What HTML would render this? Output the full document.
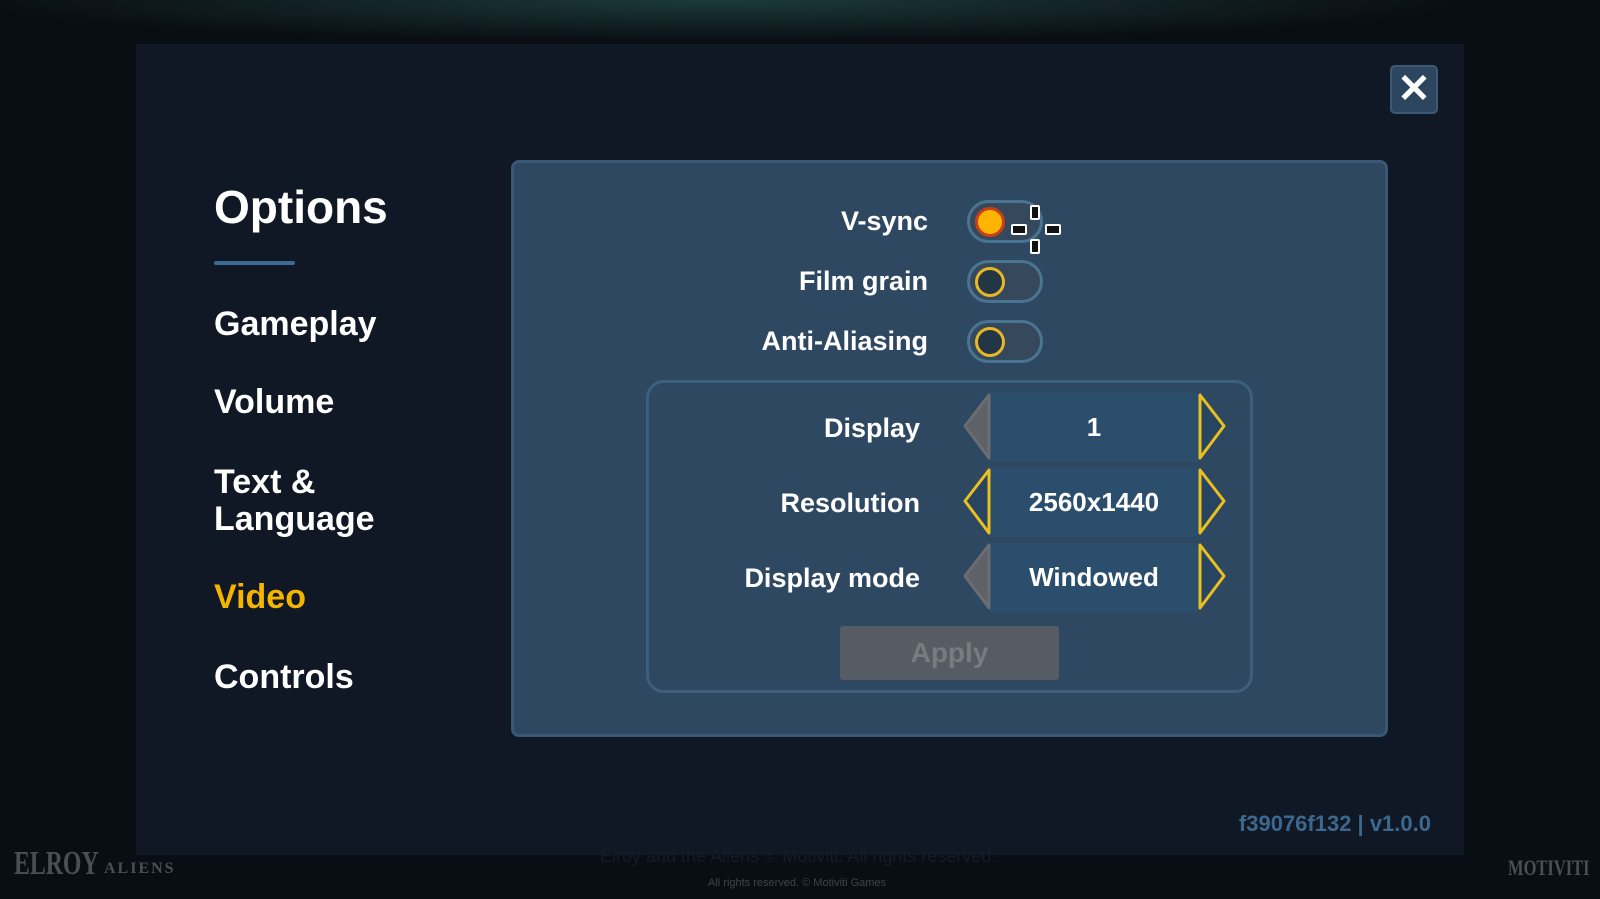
<!DOCTYPE html>
<html><head><meta charset="utf-8"><style>
*{margin:0;padding:0;box-sizing:border-box}
body{width:1600px;height:899px;overflow:hidden;background:#090d14;font-family:"Liberation Sans",sans-serif;font-weight:bold;position:relative;color:#fff}
.a{position:absolute;white-space:nowrap}
.modal{position:absolute;left:136px;top:44px;width:1328px;height:811px;background:#0f1824}
.panel{position:absolute;left:511px;top:160px;width:877px;height:577px;background:#2e4861;border:3px solid #3a5875;border-radius:8px}
.menu{font-size:34px;left:214px}
.lbl{font-size:27px;text-align:right}
.pill{position:absolute;width:76px;height:43px;border-radius:22px;background:#35485c;border:3px solid #4a7592}
.pill i{position:absolute;left:5px;top:4px;width:30px;height:30px;border-radius:50%;border:3px solid #e8b824;background:#233646}
.bar{position:absolute;left:990px;width:208px;height:69px;background:#2c4e6d;font-size:26px;text-align:center;line-height:69px}
</style></head><body>
<div class="a" style="left:0;top:0;width:1600px;height:50px;background:radial-gradient(ellipse at 45% 0,#1c3a3a,transparent 60%)"></div>
<div class="modal"></div>
<div class="a" style="left:1390px;top:65px;width:48px;height:49px;background:#2c465f;border-radius:5px;border:2px solid #3c5a75;color:#fff;font-size:40px;line-height:44px;text-align:center">✕</div>
<div class="a" style="left:214px;top:180px;font-size:46px">Options</div>
<div class="a" style="left:214px;top:261px;width:81px;height:4px;background:#3d6a92;border-radius:2px"></div>
<div class="a menu" style="top:305px">Gameplay</div>
<div class="a menu" style="top:383px">Volume</div>
<div class="a menu" style="top:464px;line-height:37px">Text &amp;<br>Language</div>
<div class="a menu" style="top:578px;color:#f5b400">Video</div>
<div class="a menu" style="top:658px">Controls</div>
<div class="panel"></div>
<div class="a lbl" style="right:672px;top:206px">V-sync</div>
<div class="a lbl" style="right:672px;top:266px">Film grain</div>
<div class="a lbl" style="right:672px;top:326px">Anti-Aliasing</div>
<div class="pill" style="left:967px;top:200px"><i style="background:#ffb400;border-color:#c8401a"></i></div>
<div class="pill" style="left:967px;top:260px"><i></i></div>
<div class="pill" style="left:967px;top:320px"><i></i></div>
<div class="a" style="left:1030px;top:205px;width:10px;height:15px;border:2px solid #fff;background:#111;border-radius:2px"></div>
<div class="a" style="left:1030px;top:239px;width:10px;height:15px;border:2px solid #fff;background:#111;border-radius:2px"></div>
<div class="a" style="left:1011px;top:224px;width:16px;height:11px;border:2px solid #fff;background:#111;border-radius:2px"></div>
<div class="a" style="left:1045px;top:224px;width:16px;height:11px;border:2px solid #fff;background:#111;border-radius:2px"></div>
<div class="a" style="left:646px;top:380px;width:607px;height:313px;border:3px solid #3d5f7e;border-radius:18px"></div>
<div class="a lbl" style="right:680px;top:413px">Display</div>
<div class="a lbl" style="right:680px;top:488px">Resolution</div>
<div class="a lbl" style="right:680px;top:563px">Display mode</div>
<div class="bar" style="top:393px">1</div>
<div class="bar" style="top:468px">2560x1440</div>
<div class="bar" style="top:543px">Windowed</div>
<svg class="a" style="left:960px;top:390px" width="270" height="230">
<g stroke-width="3" stroke-linejoin="round">
<polygon points="29,5 29,68 5,36" fill="#5e6266" stroke="#6a6e72"/>
<polygon points="29,80 29,143 5,111" fill="#274560" stroke="#eabf20"/>
<polygon points="29,155 29,218 5,186" fill="#5e6266" stroke="#6a6e72"/>
<polygon points="240,5 240,68 264,36" fill="#274560" stroke="#eabf20"/>
<polygon points="240,80 240,143 264,111" fill="#274560" stroke="#eabf20"/>
<polygon points="240,155 240,218 264,186" fill="#274560" stroke="#eabf20"/>
</g></svg>
<div class="a" style="left:840px;top:626px;width:219px;height:54px;background:#555c63;border-radius:3px;color:#767c82;font-size:28px;text-align:center;line-height:54px">Apply</div>
<div class="a" style="right:169px;top:811px;color:#3c6890;font-size:22px">f39076f132 | v1.0.0</div>
<div class="a" style="left:600px;top:846px;color:#161c26;font-size:18px;font-weight:normal">Elroy and the Aliens © Motiviti. All rights reserved.</div>
<div class="a" style="left:708px;top:877px;color:#3e444c;font-size:11px;font-weight:normal">All rights reserved. © Motiviti Games</div>
<div class="a" style="left:14px;top:845px;color:#4a4f55;font-size:34px;font-family:'Liberation Serif',serif;transform:scaleX(0.7);transform-origin:left">ELROY</div>
<div class="a" style="left:104px;top:860px;color:#4a4f55;font-size:16px;font-family:'Liberation Serif',serif;letter-spacing:2px">ALIENS</div>
<div class="a" style="left:1508px;top:855px;color:#4a4f55;font-size:22px;font-family:'Liberation Serif',serif;transform:scaleX(0.75);transform-origin:left">MOTIVITI</div>
</body></html>
